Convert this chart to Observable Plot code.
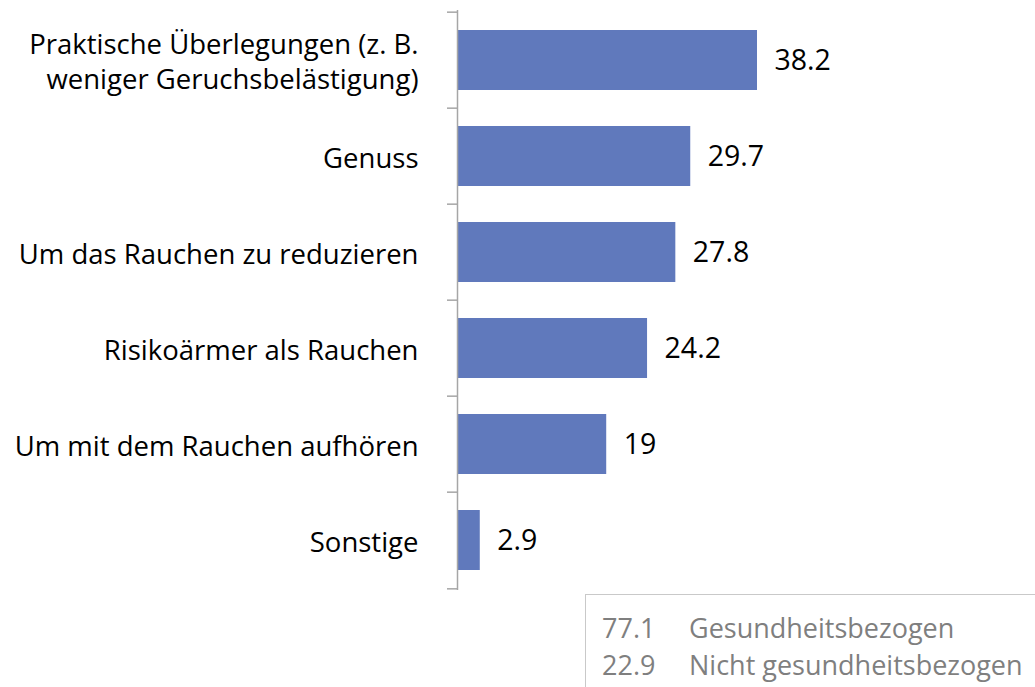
<!DOCTYPE html>
<html><head><meta charset="utf-8">
<script src="https://cdn.jsdelivr.net/npm/d3@7"></script>
<script src="https://cdn.jsdelivr.net/npm/@observablehq/plot@0.6"></script>
<style>
body{margin:0;background:#fff;font-family:'Open Sans',sans-serif;}
#legend{margin-left:585px; width:450px; height:93px; border-top:1.5px solid #c9c9c9; border-left:1.5px solid #c9c9c9; box-sizing:border-box; color:#7f7f7f; font-size:27px; padding-top:14px;}
#legend .row{height:37px; line-height:37px; white-space:nowrap;}
#legend .v{display:inline-block; width:103px; padding-left:16px; box-sizing:border-box;}
</style></head><body>
<div id="chart"></div>
<div id="legend"></div>
<script>
const categories = ["Praktische Überlegungen (z. B.\nweniger Geruchsbelästigung)", "Genuss", "Um das Rauchen zu reduzieren", "Risikoärmer als Rauchen", "Um mit dem Rauchen aufhören", "Sonstige"];
const values = [38.2, 29.7, 27.8, 24.2, 19, 2.9];
const legendValues = ["77.1", "22.9"];
const legendLabels = ["Gesundheitsbezogen", "Nicht gesundheitsbezogen"];

const data = categories.map((c, i) => ({category: c, value: values[i]}));
const H = 594, mT = 10, mB = 4;
const band = (H - mT - mB) / categories.length;
const axisColor = "#a6a6a6";

const chart = Plot.plot({
  width: 1035, height: H,
  marginTop: mT, marginBottom: mB, marginLeft: 457, marginRight: 278,
  x: {domain: [0, d3.max(values)], axis: null},
  y: {domain: categories, paddingInner: 0.37, paddingOuter: 0.185, axis: null, label: null},
  style: {fontFamily: "'Open Sans', sans-serif", fontSize: "27.5px", color: "#000", background: "#fff"},
  marks: [
    Plot.barX(data, {x: "value", y: "category", fill: "#6079bc"}),
    Plot.ruleX([0], {stroke: axisColor, strokeWidth: 1.5}),
    Plot.axisY(categories, {tickSize: 10, dy: -band / 2, tickFormat: () => "", label: null, stroke: axisColor, strokeWidth: 1.5, strokeOpacity: 1}),
    Plot.axisY(categories.slice(-1), {tickSize: 10, dy: band / 2, tickFormat: () => "", label: null, stroke: axisColor, strokeWidth: 1.5, strokeOpacity: 1}),
    Plot.text(data, {x: 0, y: "category", text: "category", textAnchor: "end", dx: -39, fill: "#000", lineHeight: 1.27}),
    Plot.text(data, {x: "value", y: "category", text: d => String(d.value), textAnchor: "start", dx: 17, fill: "#000", fontSize: 28.5})
  ]
});
document.getElementById("chart").appendChild(chart);

const legend = document.getElementById("legend");
legendValues.forEach((v, i) => {
  const row = document.createElement("div");
  row.className = "row";
  const a = document.createElement("span"); a.className = "v"; a.textContent = v;
  const b = document.createElement("span"); b.textContent = legendLabels[i];
  row.appendChild(a); row.appendChild(b);
  legend.appendChild(row);
});
</script>
</body></html>
